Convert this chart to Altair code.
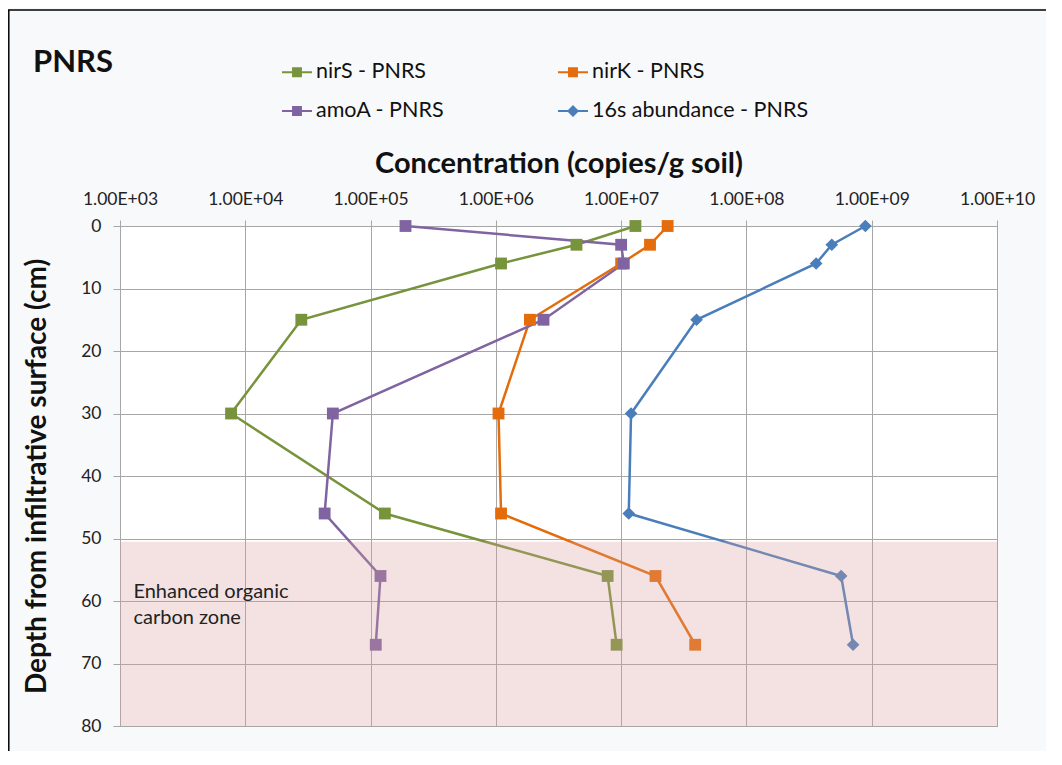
import altair as alt
import pandas as pd

# ---- data ----
depths = [0, 3, 6, 15, 30, 46, 56, 67]
nirS = [1.3e7, 4.4e6, 1.1e6, 2.8e4, 7.7e3, 1.3e5, 7.8e6, 9.2e6]
nirK = [2.35e7, 1.7e7, 1.0e7, 1.87e6, 1.05e6, 1.1e6, 1.88e7, 3.9e7]
amoA = [1.9e5, 1.0e7, 1.05e7, 2.4e6, 5.0e4, 4.3e4, 1.2e5, 1.1e5]
s16 = [8.9e8, 4.8e8, 3.6e8, 4.0e7, 1.2e7, 1.15e7, 5.7e8, 7.1e8]

series_names = ["nirS - PNRS", "nirK - PNRS", "amoA - PNRS", "16s abundance - PNRS"]
series_values = [nirS, nirK, amoA, s16]
series_colors = ["#77933C", "#E46C0A", "#8064A2", "#4A7EBB"]
# legend entry order (column-major fill in a 2-column legend)
legend_order = ["nirS - PNRS", "amoA - PNRS", "nirK - PNRS", "16s abundance - PNRS"]
legend_paths = [
    "M-1,-0.07H1V0.07H-1Z M-0.33,-0.33H0.33V0.33H-0.33Z",
    "M-1,-0.07H1V0.07H-1Z M-0.33,-0.33H0.33V0.33H-0.33Z",
    "M-1,-0.07H1V0.07H-1Z M-0.33,-0.33H0.33V0.33H-0.33Z",
    "M-1,-0.07H1V0.07H-1Z M0,-0.4L0.4,0L0,0.4L-0.4,0Z",
]
x_ticks = [1e3, 1e4, 1e5, 1e6, 1e7, 1e8, 1e9, 1e10]
y_ticks = [0, 10, 20, 30, 40, 50, 60, 70, 80]

zone_x = [1e3]
zone_x2 = [1e10]
zone_y = [50.5]
zone_y2 = [80]
zone_label = [["Enhanced organic", "carbon zone"]]
zone_label_x = [1.28e3]
zone_label_y = [58.6]

chart_title = "PNRS"

rows = []
for name, vals in zip(series_names, series_values):
    for d, v in zip(depths, vals):
        rows.append({"series": name, "conc": v, "depth": d})
df = pd.DataFrame(rows)

zone_df = pd.DataFrame({"conc": zone_x, "conc2": zone_x2, "depth": zone_y, "depth2": zone_y2})
text_df = pd.DataFrame({"conc": zone_label_x, "depth": zone_label_y, "label": zone_label})

FONT = "Lato"
GRID = "#A6A6A6"

x_scale = alt.Scale(type="log", domain=[1e3, 1e10], nice=False)
y_scale = alt.Scale(domain=[0, 80], reverse=True, nice=False)
color_scale = alt.Scale(domain=series_names, range=series_colors)

x_axis = alt.Axis(
    orient="top", values=x_ticks, grid=True, gridColor=GRID, gridWidth=1,
    domain=False, ticks=True, tickColor=GRID, tickSize=6,
    labelExpr="'1.00E+' + (round(log(datum.value)/LN10) < 10 ? '0' : '') + round(log(datum.value)/LN10)",
    labelFont=FONT, labelFontSize=17.5, labelColor="#222", labelPadding=12,
    title="Concentration (copies/g soil)", titleFont=FONT, titleFontSize=29,
    titleFontWeight="bold", titleColor="#111", titlePadding=12, labelFlush=False,
)
y_axis = alt.Axis(
    values=y_ticks, grid=True, gridColor=GRID, gridWidth=1,
    domain=True, domainColor=GRID, ticks=True, tickColor=GRID, tickSize=7,
    labelFont=FONT, labelFontSize=17.5, labelColor="#222", labelPadding=12,
    title="Depth from infiltrative surface (cm)", titleFont=FONT, titleFontSize=28,
    titleFontWeight="bold", titleColor="#111", titlePadding=29,
)

X = alt.X("conc:Q", scale=x_scale, axis=x_axis)
Y = alt.Y("depth:Q", scale=y_scale, axis=y_axis)

base = alt.Chart(df)

lines = base.mark_line(strokeWidth=2.5).encode(
    x=X, y=Y,
    color=alt.Color("series:N", scale=color_scale, legend=None),
    order="depth:Q",
)
squares = base.transform_filter(
    alt.datum.series != "16s abundance - PNRS"
).mark_point(shape="square", filled=True, size=140, opacity=1).encode(
    x=X, y=Y, color=alt.Color("series:N", scale=color_scale, legend=None)
)
diamonds = base.transform_filter(
    alt.datum.series == "16s abundance - PNRS"
).mark_point(shape="diamond", filled=True, size=160, opacity=1).encode(
    x=X, y=Y, color=alt.Color("series:N", scale=color_scale, legend=None)
)

leg = alt.Legend(
    title=None, orient="none", legendX=162, legendY=-169, columns=2,
    symbolSize=900, symbolOpacity=1, symbolStrokeWidth=0,
    labelFont=FONT, labelFontSize=21.5, labelColor="#111", labelOffset=4,
    rowPadding=13, columnPadding=113, labelLimit=400,
)
legend_layer = base.mark_point(filled=True, opacity=0, size=1).encode(
    x=X, y=Y,
    color=alt.Color("series:N", scale=alt.Scale(domain=legend_order,
                    range=[series_colors[series_names.index(s)] for s in legend_order]),
                    legend=leg),
    shape=alt.Shape("series:N", scale=alt.Scale(domain=legend_order,
                    range=[legend_paths[series_names.index(s)] for s in legend_order]),
                    legend=leg),
)

zone = alt.Chart(zone_df).mark_rect(color="#D79E9B", opacity=0.3).encode(
    x=X, x2="conc2:Q", y=Y, y2="depth2:Q"
)
zone_text = alt.Chart(text_df).mark_text(
    align="left", baseline="middle", font=FONT, fontSize=20, color="#222", lineHeight=26
).encode(x=X, y=Y, text="label")

title_text = alt.Chart(pd.DataFrame({"t": [chart_title]})).mark_text(
    align="left", baseline="alphabetic", font=FONT, fontSize=31, fontWeight="bold", color="#111"
).encode(x=alt.value(-87), y=alt.value(-154), text="t:N")

border = alt.Chart(pd.DataFrame({"k": [0]})).mark_rule(color="#000", strokeWidth=1.5).encode(
    x=alt.value(-111.2), y=alt.value(-216), y2=alt.value(530)
)
border_top = alt.Chart(pd.DataFrame({"k": [0]})).mark_rule(color="#000", strokeWidth=1.5).encode(
    x=alt.value(-112), x2=alt.value(926), y=alt.value(-216)
)

chart = alt.layer(
    lines, squares, diamonds, legend_layer, zone, zone_text, title_text, border, border_top
).resolve_legend(color="independent", shape="independent").resolve_scale(
    shape="independent", color="independent"
).properties(
    width=877, height=500,
    autosize=alt.AutoSizeParams(type="none"),
    padding={"left": 112, "top": 218, "right": 49, "bottom": 25},
    background="#F8F9FB",
).configure_view(fill="white", stroke=GRID, strokeWidth=1)

chart.save("out.html", embed_options={"renderer": "svg", "actions": False})
